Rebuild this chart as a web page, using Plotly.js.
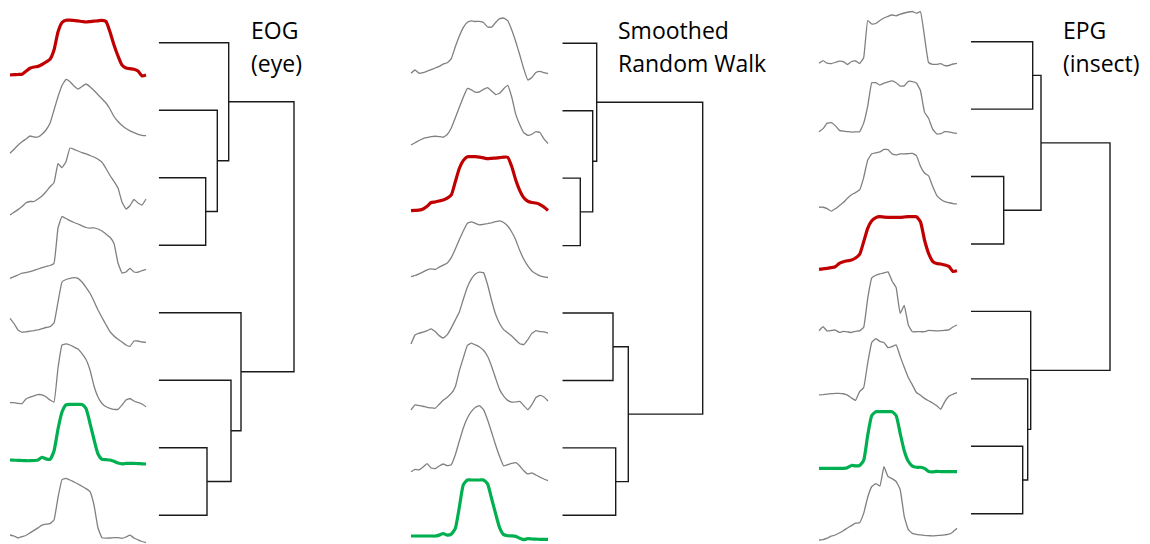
<!DOCTYPE html>
<html><head><meta charset="utf-8">
<script src="https://cdn.plot.ly/plotly-3.0.1.min.js"></script>
<style>html,body{margin:0;padding:0;background:#fff}#chart{width:1150px;height:544px}</style>
</head><body><div id="chart"></div>
<script>
// ---- time series (equally spaced samples, amplitude units) ----
const eog1=[1.7,2,2.2,2.5,5.5,8.4,9.7,10.3,12.2,14.7,17.4,26.7,44.7,54.2,56.5,56.5,56.2,55.9,55.2,54.7,55.1,55.5,55.9,56.4,55.2,44.7,31.7,20.7,11.7,8.7,8,7.5,5.7,0.7,1.7];
const eog2=[-9.1,-5.1,-1.1,2.4,5.2,8.2,7.2,7.2,9.9,14.2,20.9,34.2,47.5,58.7,64.7,62.5,58.2,55.2,57.7,60.2,57.5,53.7,49.5,45.5,41.2,35.2,27.7,22.7,18.7,15.7,13.4,11.5,9.9,8.9,8.5];
const eog3=[-3.3,-0.6,2.1,5.2,8.9,10.2,10.2,12.7,15.7,20,25,29,48,44,50,63.7,62.4,60.7,59,57.9,56.2,54.7,52.4,49.4,43.2,36.2,30.4,23.7,9.7,2.7,6.2,12.2,8.7,6.7,12.7];
const eog4=[0.9,2.6,4.2,6,6.7,7.5,8.9,10.2,11.5,12.7,13.7,15.9,51.2,62.7,60.7,58.5,56.7,55.2,53.4,51.7,51.1,51.4,50.2,48.2,45.2,41.9,35.7,16.2,6.2,7.2,10.9,7.2,7,8.6,9.9];
const eog5=[28.4,23.2,16.7,14.4,14.9,15.5,16.1,16.9,18,19.2,20,23.7,44.7,64.7,67.2,68.4,69,68.4,64.7,59.4,53.4,45.4,36.7,29.2,22,15,10.7,7.4,4.7,1.7,0.4,5.7,5.7,4.7,4.4];
const eog6=[11.5,11.5,10.8,10.5,15.2,17,18.4,19.6,19.4,17.4,14.2,12.2,46.2,69.2,70.4,69.2,67.2,65.2,60.5,54.7,44.2,28.2,17.2,10.7,7.5,5.9,4.9,4.9,9.2,14.2,15.7,13.2,11.7,10.2,7.5];
const eog7=[21.7,21.5,21.4,21.2,21,21,21.2,21.7,24.4,22.8,22.4,30.7,52.7,69.7,76.8,77.4,77.4,77.4,77.2,73.2,58.4,42.2,27.7,22.3,22,21.7,20.4,18.7,17.9,18.3,18.4,18.4,18.1,17.9,17.7];
const eog8=[14.2,13.2,11.2,12.6,13.7,16.3,18.8,21.3,24,25,25.6,29.2,51.7,69.6,70.8,69.2,67.2,65.2,63,60.6,57.6,44.2,21.2,11.5,11.1,11.2,11.6,11.5,10.9,12.2,14,11.2,9.4,7.7,6.5];

const srw1=[4,7.3,4.1,4.7,6.2,7.7,9.3,11,13.1,14.6,18.6,30.6,41.3,50,55,56.4,55.8,55.9,54.8,50.3,50.1,54.8,58.6,59.3,56.6,47.3,35.6,22.3,8.3,-2.7,-0.2,4.8,6,4.7,3.6];
const srw2=[-0.3,2,4.2,6.2,7.2,8.1,8.5,8.2,7.5,10.2,16.7,26.9,37.4,47.7,56.3,54.9,52.5,52.9,55.4,57.1,53.7,50.2,51.5,56,59.4,47.7,30.3,20,12,9.4,10.5,13,12.2,5.8,1.2];
const srw3=[1.5,1.8,2.1,3.2,5.9,9.7,10.2,11.1,12.1,14,17.2,30.5,43.9,51.8,55.5,55.5,55.5,55,54.3,53.5,53.8,54.1,54.5,55,54.9,45.6,32.2,21.6,14.4,10.9,9.7,9.1,7.7,5.1,1.6];
const srw4=[2.9,4.1,5.7,7.7,9.8,10.8,10.1,12.4,14.4,16.6,22,30.6,40,48.9,56.4,57.7,56.2,54.7,55.3,56,56.8,57.9,58.7,57.1,53.6,47.6,39.6,29,20.3,13.6,8.6,5.8,3.8,2.7,2.1];
const srw5=[3,12,13.8,14.9,16.3,18.2,15.4,11.4,9,12.4,19.2,27.1,35,48,60,68.2,73,74.8,74.4,62.5,46.5,32.7,23.5,17.4,14.2,11,7,3.3,2.5,7.5,13.6,16.3,15.5,15.1,14];
const srw6=[4.5,9.5,8.9,8.2,7.1,6.6,6.2,10.2,14.2,17.3,21,27.8,43.8,56.8,69,71.3,69.5,67.5,64.2,58.2,48.2,36.2,24.8,18.3,14.1,12.3,12.5,13,8.8,4.8,9.8,17,19,17.5,13.5];
const srw7=[10.2,12.6,12,14.9,18.3,13.9,13.3,15.9,17.9,16.2,17.2,27.1,40.9,54.2,63.9,70.5,74.7,76.2,72.2,62.1,49.6,36.9,25.3,15.9,17.2,18.4,19.2,15.9,11.2,7.9,9.1,6.9,4.8,2.9,1.2];
const srw8=[13.3,13.3,13.3,13.3,13.3,13.3,13.3,14.2,15.8,14.2,15.2,21,42.3,64.8,69.3,69.3,69.3,69.3,69.3,65.4,50.8,35.6,21.5,14.7,13.6,13.4,12.9,11.1,9.6,10.6,10.3,10.1,10,10,10];

const epg1=[12.4,15,12.5,12.1,13.2,14.6,14.1,11.2,14.2,14.7,12.2,18,55.2,51.7,52.2,55.2,57.7,59.4,60.7,59.8,61.5,62.7,63.7,64.2,62.5,64,39,13.2,11.4,11.4,12,10.1,10.2,11.7,12.4];
const epg2=[11.4,14.5,20,20.4,17.5,12.8,11.9,11.5,11,11.3,11.4,20,37,60.3,60.4,58.1,60,61.3,62.2,60.4,57.1,57.2,61.7,61.6,60.1,52.6,31,24.8,14,9.2,9.4,11.5,11.2,10.2,9.8];
const epg3=[3.3,3.3,1.9,-0.6,1.8,4.9,8,12.4,15.8,17.9,20.6,33,50.5,56.8,57.8,58.6,61.1,61,56.7,55.7,56.6,56.6,57,57.1,55,44.3,37.6,34.6,24.3,15.2,11.4,8.9,7.9,7,6.6];
const epg4=[8.7,9.2,9.6,10.4,11.3,14.6,16.2,17.2,17.9,20,23.5,36.2,49.7,57.2,60.4,61.3,60.9,60.7,60.7,60.7,60.7,61,61.3,61.3,61.3,56.3,38,24.7,16.7,14.4,14,13,11.6,6.6,7.3];
const epg5=[14.7,18.7,14.4,14.9,15.4,13,14,13.6,12.9,14.1,14.6,18,47,67.5,70.2,71.6,72.5,73.6,64.4,58,32,40,20.5,13.7,13.7,13.7,13.7,15.1,14.8,14.6,14.7,15.1,15.5,18.4,20.4];
const epg6=[17.9,18.3,18.8,19.2,19.4,19.5,19.1,17.7,14.9,12.5,21.2,25.2,49.9,70.5,74.3,71.5,70.4,65.2,66.2,68,56.5,45.5,35.3,28,20.4,17.7,14.5,12.1,9.9,7.2,3.6,11.2,16.5,18.6,20.2];
const epg7=[12,12,12,12,12,12,12,12.6,14.8,14.4,14.8,20,45,64.8,68.6,68.6,68.6,68.6,68.6,64.7,47,29.6,19,14.2,13,13,11.9,8.8,8.5,8.9,8.7,8.6,8.6,8.6,8.6];
const epg8=[7.7,8.1,9.5,11.6,12.7,14.7,17,19.7,22.1,24.5,25,34.3,50.4,61.2,64,61.7,81,71.2,69.1,66.2,58.2,31.4,18,14.4,13.3,12.8,12.3,12,11.8,12.1,12.4,12.9,13.5,15.8,19.4];

// ---- hierarchical clustering linkage: [childA, childB, mergeHeight]; new clusters get ids 8,9,... ----
const EOG_LINKAGE=[[2,3,47],[1,8,58.6],[0,9,70],[6,7,48.3],[5,11,72.3],[4,12,82.3],[10,13,135.3]];
const SRW_LINKAGE=[[2,3,18],[1,8,30.4],[0,9,34.4],[4,5,50.7],[6,7,53.4],[11,12,66],[10,13,140.4]];
const EPG_LINKAGE=[[0,1,61.7],[2,3,32.7],[8,9,70],[6,7,51.7],[5,11,56.7],[4,12,59.7],[10,13,139]];

const TITLE_LINES=[["EOG","(eye)"],["Smoothed","Random Walk"],["EPG","(insect)"]];
const RED_INDEX=[0,2,3];
const GREEN_INDEX=[6,7,6];

// ---- layout geometry ----
const W=1150,H=544;
const panels=[
  {series:[eog1,eog2,eog3,eog4,eog5,eog6,eog7,eog8],link:EOG_LINKAGE,curveX:[8,148],dendX:158.7,leaf0:42.7,sp:67.5,titleX:249},
  {series:[srw1,srw2,srw3,srw4,srw5,srw6,srw7,srw8],link:SRW_LINKAGE,curveX:[409,550],dendX:562.3,leaf0:43.3,sp:67.43,titleX:615.5},
  {series:[epg1,epg2,epg3,epg4,epg5,epg6,epg7,epg8],link:EPG_LINKAGE,curveX:[817,959],dendX:971,leaf0:41.7,sp:67.43,titleX:1061}
];
const DEND_SPAN=150;
const traces=[];
const layout={
  width:W,height:H,margin:{l:0,r:0,t:0,b:0},
  paper_bgcolor:'#fff',plot_bgcolor:'rgba(0,0,0,0)',showlegend:false,
  annotations:[]
};
const font='"Open Sans", "Noto Sans", sans-serif';
panels.forEach((p,pi)=>{
  const xc=pi*2+1, xd=pi*2+2, yi=pi+1;
  const xcName='xaxis'+(xc===1?'':xc), xdName='xaxis'+xd, yName='yaxis'+(yi===1?'':yi);
  const xcRef='x'+(xc===1?'':xc), xdRef='x'+xd, yRef='y'+(yi===1?'':yi);
  layout[xcName]={domain:[p.curveX[0]/W,p.curveX[1]/W],range:[-0.5,34.5],visible:false,fixedrange:true};
  layout[xdName]={domain:[p.dendX/W,(p.dendX+DEND_SPAN)/W],range:[0,DEND_SPAN],visible:false,fixedrange:true};
  layout[yName]={domain:[0,1],range:[(H-p.leaf0)/p.sp,-p.leaf0/p.sp],visible:false,fixedrange:true};
  // curves
  p.series.forEach((s,i)=>{
    const isRed=i===RED_INDEX[pi], isGreen=i===GREEN_INDEX[pi];
    const bold=isRed||isGreen;
    traces.push({
      type:'scatter',mode:'lines',xaxis:xcRef,yaxis:yRef,
      x:s.map((_,k)=>k),
      y:s.map(v=>i+(34-v)/p.sp),
      line:{color:isRed?'#c00000':(isGreen?'#00b050':'#808080'),width:bold?3.2:1.3,shape:'spline',smoothing:bold?0.5:0.3},
      hoverinfo:'skip'
    });
  });
  // dendrogram
  const pos=[];
  for(let i=0;i<8;i++) pos.push({x:0,y:i});
  const dx=[],dy=[];
  p.link.forEach(m=>{
    const a=pos[m[0]],b=pos[m[1]],h=m[2];
    dx.push(a.x,h,h,b.x,null);
    dy.push(a.y,a.y,b.y,b.y,null);
    pos.push({x:h,y:(a.y+b.y)/2});
  });
  traces.push({type:'scatter',mode:'lines',xaxis:xdRef,yaxis:yRef,x:dx,y:dy,
    line:{color:'#1a1a1a',width:1.4},hoverinfo:'skip'});
  // titles
  const baselines=[39.3,72];
  TITLE_LINES[pi].forEach((t,li)=>{
    layout.annotations.push({text:t,xref:'paper',yref:'paper',x:p.titleX/W,y:1-(baselines[li]-9)/H,
      xanchor:'left',yanchor:'middle',showarrow:false,font:{family:font,size:23,color:'#000'}});
  });
});
Plotly.newPlot('chart',traces,layout,{displayModeBar:false,staticPlot:true});
</script>
</body></html>
